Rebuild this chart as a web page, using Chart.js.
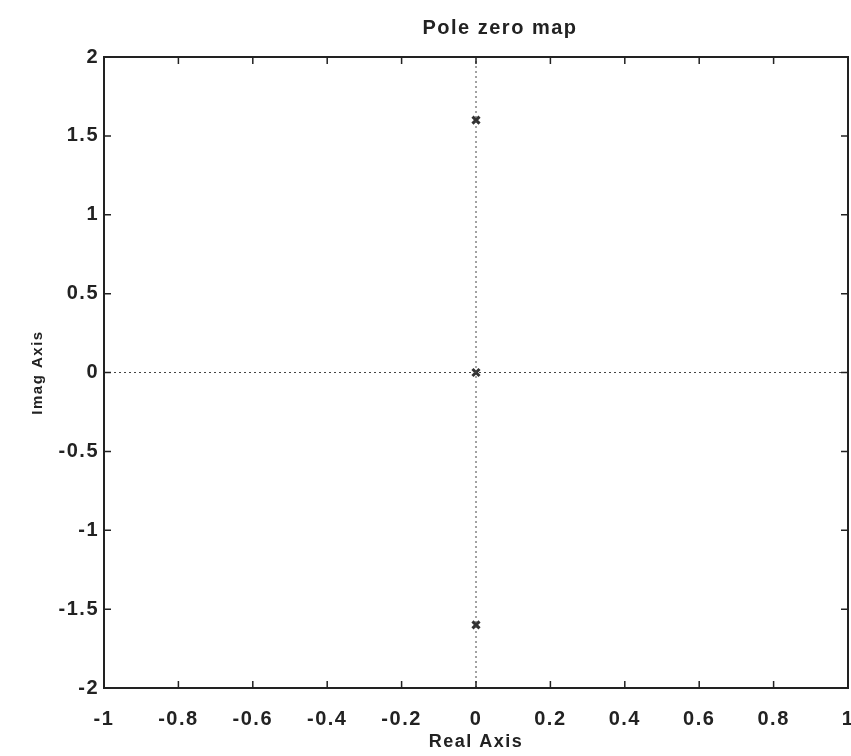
<!DOCTYPE html>
<html>
<head>
<meta charset="utf-8">
<script src="https://cdn.jsdelivr.net/npm/chart.js@4"></script>
<style>
  html, body { margin: 0; padding: 0; background: #fff; }
  #wrap { width: 851px; height: 756px; }
</style>
</head>
<body>
<div id="wrap"><canvas id="myChart" width="851" height="756"></canvas></div>
<script>
(function() {
  // pole / zero locations
  const poleReal = [0, 0, 0]
  const poleImag = [1.6, 0, -1.6]

  const xTicks = [-1, -0.8, -0.6, -0.4, -0.2, 0, 0.2, 0.4, 0.6, 0.8, 1]
  const yTicks = [-2, -1.5, -1, -0.5, 0, 0.5, 1, 1.5, 2]

  const titleText = 'Pole zero map'
  const ink = '#222'
  const face = 'Liberation Sans'

  // slightly spaced lettering like the scanned original
  const spacing = {
    id: 'spacing',
    beforeInit(chart) { chart.ctx.letterSpacing = '1.5px' },
    beforeDraw(chart) { chart.ctx.letterSpacing = '1.5px' }
  }

  // inward ticks on all four sides, closed box and the title over the plot
  const boxTicks = {
    id: 'boxTicks',
    afterDatasetsDraw(chart) {
      const c = chart.ctx, a = chart.chartArea
      const sx = chart.scales.x, sy = chart.scales.y
      const len = 7
      c.save()
      c.strokeStyle = ink
      c.lineWidth = 2
      c.strokeRect(a.left, a.top, a.right - a.left, a.bottom - a.top)
      c.lineWidth = 1.5
      c.beginPath()
      xTicks.forEach(v => {
        let p = sx.getPixelForValue(v)
        c.moveTo(p, a.bottom); c.lineTo(p, a.bottom - len)
        c.moveTo(p, a.top); c.lineTo(p, a.top + len)
      })
      yTicks.forEach(v => {
        let p = sy.getPixelForValue(v)
        c.moveTo(a.left, p); c.lineTo(a.left + len, p)
        c.moveTo(a.right, p); c.lineTo(a.right - len, p)
      })
      c.stroke()
      c.fillStyle = ink
      c.font = 'bold 20px "' + face + '"'
      c.textAlign = 'center'
      c.textBaseline = 'alphabetic'
      c.fillText(titleText, 500, 34)
      c.restore()
    }
  }

  const ctx = document.getElementById('myChart').getContext('2d')

  new Chart(ctx, {
    type: 'scatter',
    data: {
      datasets: [
        {
          type: 'line',
          data: [{ x: -1, y: 0 }, { x: 1, y: 0 }],
          borderColor: '#444',
          borderWidth: 1,
          borderDash: [2, 3],
          pointRadius: 0,
          fill: false
        },
        {
          type: 'line',
          data: [{ x: 0, y: -2 }, { x: 0, y: 2 }],
          borderColor: '#444',
          borderWidth: 1,
          borderDash: [2, 3],
          pointRadius: 0,
          fill: false
        },
        {
          label: 'poles',
          data: poleReal.map((r, i) => ({ x: r, y: poleImag[i] })),
          pointStyle: 'crossRot',
          pointRadius: 5,
          borderWidth: 3,
          borderColor: '#333',
          backgroundColor: '#333'
        }
      ]
    },
    options: {
      responsive: false,
      animation: false,
      layout: { autoPadding: false, padding: { left: 0, right: 3, top: 57, bottom: 0 } },
      plugins: {
        legend: { display: false },
        tooltip: { enabled: false },
        title: { display: false }
      },
      scales: {
        x: {
          type: 'linear',
          min: -1, max: 1,
          afterBuildTicks: s => { s.ticks = xTicks.map(v => ({ value: v })) },
          afterFit: s => { s.height = 68; s.paddingLeft = 0; s.paddingRight = 0 },
          grid: { display: false },
          border: { display: false },
          ticks: {
            color: ink,
            padding: 11,
            maxRotation: 0,
            font: { family: face, size: 20, weight: 'bold' },
            callback: v => String(Math.round(v * 10) / 10)
          },
          title: {
            display: true,
            text: 'Real Axis',
            color: ink,
            padding: { top: 0, bottom: 3 },
            font: { family: face, size: 18, weight: 'bold' }
          }
        },
        y: {
          type: 'linear',
          min: -2, max: 2,
          afterBuildTicks: s => { s.ticks = yTicks.map(v => ({ value: v })) },
          afterFit: s => { s.width = 104; s.paddingTop = 0; s.paddingBottom = 0 },
          grid: { display: false },
          border: { display: false },
          ticks: {
            color: ink,
            padding: -3,
            font: { family: face, size: 20, weight: 'bold' },
            callback: v => String(v)
          },
          title: {
            display: true,
            text: 'Imag Axis',
            color: ink,
            padding: { top: 29, bottom: 0 },
            font: { family: face, size: 15, weight: 'bold' }
          }
        }
      }
    },
    plugins: [spacing, boxTicks]
  })
})();
</script>
</body>
</html>
